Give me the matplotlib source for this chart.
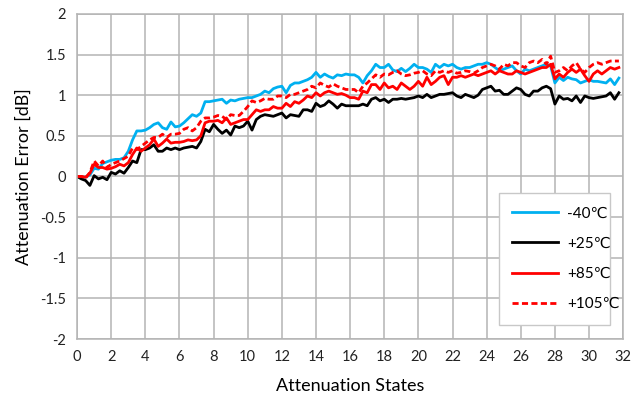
import numpy as np
import matplotlib
matplotlib.use('Agg')
import matplotlib.pyplot as plt

plt.rcParams['font.family'] = ['Lato', 'DejaVu Sans']

states = np.arange(128) * 0.25

t_m40 = [0.00, -0.01, -0.01, 0.02, 0.10, 0.09, 0.16, 0.18,
         0.20, 0.21, 0.21, 0.23, 0.31, 0.45, 0.56, 0.56,
         0.57, 0.60, 0.64, 0.66, 0.60, 0.58, 0.67, 0.61,
         0.62, 0.66, 0.71, 0.76, 0.74, 0.78, 0.92, 0.92,
         0.93, 0.94, 0.95, 0.90, 0.94, 0.93, 0.95, 0.96,
         0.97, 0.97, 0.99, 1.01, 1.05, 1.03, 1.08, 1.10,
         1.11, 1.03, 1.12, 1.15, 1.15, 1.17, 1.19, 1.22,
         1.28, 1.22, 1.26, 1.23, 1.21, 1.25, 1.24, 1.26,
         1.25, 1.25, 1.22, 1.15, 1.24, 1.30, 1.38, 1.34,
         1.34, 1.38, 1.31, 1.29, 1.33, 1.29, 1.33, 1.38,
         1.34, 1.34, 1.32, 1.28, 1.38, 1.34, 1.38, 1.36,
         1.38, 1.34, 1.32, 1.34, 1.34, 1.36, 1.38, 1.38,
         1.40, 1.38, 1.34, 1.30, 1.32, 1.34, 1.36, 1.30,
         1.26, 1.32, 1.30, 1.32, 1.34, 1.36, 1.38, 1.36,
         1.15, 1.22, 1.18, 1.22, 1.20, 1.19, 1.15, 1.17,
         1.19, 1.17, 1.17, 1.16, 1.15, 1.20, 1.13, 1.21]

t_25 = [0.00, -0.03, -0.05, -0.11, 0.01, -0.03, -0.01, -0.04,
        0.05, 0.03, 0.07, 0.04, 0.11, 0.19, 0.17, 0.33,
        0.33, 0.35, 0.39, 0.31, 0.31, 0.35, 0.33, 0.35,
        0.33, 0.35, 0.36, 0.37, 0.35, 0.43, 0.58, 0.55,
        0.64, 0.58, 0.53, 0.57, 0.51, 0.62, 0.60, 0.62,
        0.68, 0.57, 0.70, 0.74, 0.76, 0.75, 0.74, 0.76,
        0.78, 0.72, 0.76, 0.75, 0.74, 0.82, 0.82, 0.80,
        0.90, 0.86, 0.88, 0.93, 0.89, 0.84, 0.89, 0.87,
        0.87, 0.87, 0.87, 0.89, 0.87, 0.95, 0.97, 0.93,
        0.95, 0.91, 0.95, 0.95, 0.96, 0.95, 0.96, 0.97,
        0.99, 0.97, 1.01, 0.97, 0.99, 1.01, 1.01, 1.02,
        1.03, 0.99, 0.97, 1.01, 0.99, 0.97, 1.00, 1.07,
        1.09, 1.11, 1.05, 1.06, 1.01, 1.01, 1.05, 1.09,
        1.07, 1.01, 0.99, 1.05, 1.05, 1.09, 1.11, 1.08,
        0.89, 0.99, 0.95, 0.96, 0.93, 0.99, 0.91, 0.99,
        0.97, 0.96, 0.97, 0.98, 0.99, 1.03, 0.95, 1.03]

t_85 = [0.00, 0.00, -0.01, 0.04, 0.15, 0.11, 0.11, 0.09,
        0.10, 0.12, 0.15, 0.13, 0.17, 0.27, 0.35, 0.31,
        0.35, 0.39, 0.46, 0.37, 0.41, 0.46, 0.41, 0.42,
        0.42, 0.43, 0.45, 0.44, 0.45, 0.50, 0.66, 0.68,
        0.68, 0.69, 0.66, 0.72, 0.64, 0.66, 0.68, 0.70,
        0.70, 0.76, 0.82, 0.80, 0.82, 0.82, 0.86, 0.84,
        0.84, 0.90, 0.86, 0.92, 0.90, 0.94, 0.99, 0.97,
        1.03, 0.99, 1.03, 1.05, 1.03, 1.01, 1.02, 1.00,
        0.97, 0.97, 0.95, 1.05, 1.03, 1.13, 1.13, 1.07,
        1.15, 1.09, 1.11, 1.07, 1.15, 1.11, 1.07, 1.11,
        1.17, 1.11, 1.22, 1.13, 1.17, 1.22, 1.24, 1.13,
        1.22, 1.22, 1.24, 1.22, 1.24, 1.26, 1.24, 1.26,
        1.28, 1.30, 1.26, 1.30, 1.28, 1.26, 1.26, 1.30,
        1.28, 1.26, 1.28, 1.30, 1.32, 1.34, 1.34, 1.38,
        1.20, 1.26, 1.22, 1.28, 1.32, 1.28, 1.32, 1.24,
        1.17, 1.26, 1.30, 1.26, 1.30, 1.34, 1.32, 1.34]

t_105 = [0.00, 0.00, -0.02, 0.05, 0.19, 0.13, 0.19, 0.11,
         0.15, 0.17, 0.19, 0.22, 0.25, 0.35, 0.33, 0.37,
         0.41, 0.45, 0.48, 0.48, 0.52, 0.48, 0.52, 0.52,
         0.53, 0.58, 0.60, 0.56, 0.60, 0.68, 0.72, 0.72,
         0.73, 0.75, 0.74, 0.70, 0.76, 0.75, 0.75, 0.80,
         0.86, 0.93, 0.91, 0.93, 0.96, 0.95, 0.95, 0.99,
         0.99, 0.97, 1.01, 1.01, 1.03, 1.05, 1.07, 1.11,
         1.09, 1.15, 1.12, 1.10, 1.14, 1.11, 1.09, 1.07,
         1.07, 1.07, 1.03, 1.11, 1.15, 1.20, 1.25, 1.22,
         1.26, 1.25, 1.28, 1.30, 1.26, 1.24, 1.25, 1.27,
         1.28, 1.30, 1.26, 1.24, 1.30, 1.28, 1.30, 1.28,
         1.30, 1.27, 1.28, 1.30, 1.29, 1.27, 1.30, 1.34,
         1.36, 1.38, 1.36, 1.32, 1.38, 1.36, 1.40, 1.40,
         1.36, 1.34, 1.40, 1.42, 1.40, 1.44, 1.38, 1.48,
         1.28, 1.30, 1.34, 1.30, 1.36, 1.40, 1.32, 1.28,
         1.34, 1.38, 1.40, 1.38, 1.40, 1.42, 1.42, 1.42]

labels = ['-40\u2103', '+25\u2103', '+85\u2103', '+105\u2103']

fig = plt.figure(figsize=(6.32, 4.08), dpi=100)
ax = fig.add_axes([0.122, 0.169, 0.864, 0.797])

ax.plot(states, t_m40, color='#00b0f0', lw=2.0, label=labels[0])
ax.plot(states, t_25, color='black', lw=2.0, label=labels[1])
ax.plot(states, t_85, color='#ff0000', lw=2.0, label=labels[2])
ax.plot(states, t_105, color='#ff0000', lw=2.0, ls=(0, (2.2, 1.2)), label=labels[3])

ax.set_xlim(0, 32)
ax.set_ylim(-2, 2)
ax.set_xticks(np.arange(0, 33, 2))
yt = np.arange(-2, 2.01, 0.5)
ax.set_yticks(yt)
ax.set_yticklabels(['%g' % v for v in yt])
ax.tick_params(length=0, labelsize=10.5, pad=8, colors='#222222')
ax.grid(True, color='#b4b4b4', lw=1.1)
ax.set_axisbelow(True)
for s in ax.spines.values():
    s.set_color('#b4b4b4')
    s.set_linewidth(1.1)

ax.set_xlabel('Attenuation States', fontsize=13, labelpad=10)
ax.set_ylabel('Attenuation Error [dB]', fontsize=13, labelpad=6)

leg = ax.legend(loc='upper left', bbox_to_anchor=(0.772, 0.065, 0.203, 0.384),
                mode='expand', borderaxespad=0, fontsize=11, handlelength=3.0,
                handletextpad=0.6, labelspacing=1.05, fancybox=False,
                framealpha=1, borderpad=0.9)
leg.get_frame().set_edgecolor('#c8c8c8')

fig.savefig('out.png', dpi=100)
